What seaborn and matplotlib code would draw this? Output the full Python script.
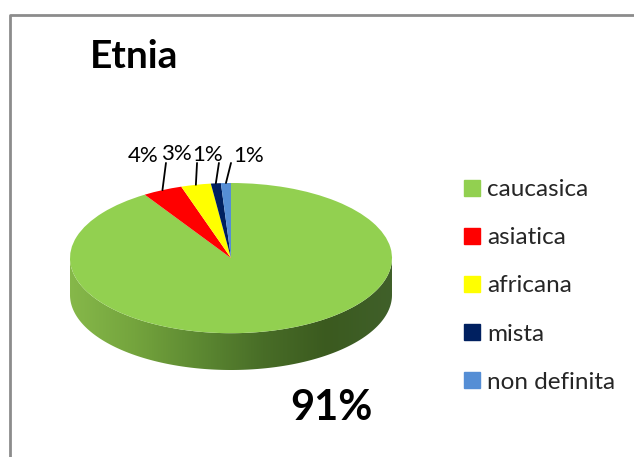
import numpy as np
import seaborn as sns
import matplotlib.pyplot as plt
from matplotlib.colors import LinearSegmentedColormap
from matplotlib.patches import Polygon
from matplotlib.lines import Line2D

# dati
categorie = ["caucasica", "asiatica", "africana", "mista", "non definita"]
percentuali = [91, 4, 3, 1, 1]
etichette = ["91%", "4%", "3%", "1%", "1%"]
colori = ["#92d050", "#ff0000", "#ffff00", "#002060", "#558ed5"]

sns.set_theme(style="white")
plt.rcParams["font.family"] = ["Lato", "DejaVu Sans"]

W, H = 634, 457
fig = plt.figure(figsize=(W / 100, H / 100), dpi=100)


def box(x0, y0, x1, y1):
    # rettangolo in pixel -> coordinate figura
    return [x0 / W, 1 - y1 / H, (x1 - x0) / W, (y1 - y0) / H]


# cornice grigia (solo lati sinistro e superiore visibili)
fig.add_artist(Line2D([10 / W, 10 / W, 1], [0, 1 - 15 / H, 1 - 15 / H],
                      transform=fig.transFigure, color="#8c8c8c", lw=2))

fig.text(90 / W, 1 - 68 / H, "Etnia", fontsize=28, fontweight="bold",
         ha="left", va="baseline", color="black")

# torta "3D": faccia superiore ellittica + fianco sfumato
spessore = 0.49
ax = fig.add_axes(box(70, 183, 392, 370))
wedges, _ = ax.pie(percentuali, colors=colori, startangle=90,
                   counterclock=False, wedgeprops=dict(linewidth=0))
for w in wedges:
    w.set_zorder(2)
    w.set_clip_on(False)

t = np.linspace(np.pi, 2 * np.pi, 300)
xs, ys = np.cos(t), np.sin(t)
verts = np.concatenate([np.c_[xs, ys], np.c_[xs[::-1], ys[::-1] - spessore]])
fianco = Polygon(verts, closed=True, facecolor="none", edgecolor="none")
ax.add_patch(fianco)
cmap = LinearSegmentedColormap.from_list(
    "fianco", ["#86b84a", "#74a43d", "#5d8932", "#486d27", "#3b5a1f", "#40602a"])
im = ax.imshow(np.linspace(0, 1, 256).reshape(1, -1), cmap=cmap,
               extent=[-1, 1, -1 - spessore, 0], aspect="auto", zorder=1)
im.set_clip_path(fianco)

ax.set_aspect("auto")
ax.set_xlim(-1, 1)
ax.set_ylim(-1 - spessore, 1)
ax.axis("off")

# etichette delle fette piccole con linee guida
pos_testo = [None, (-0.543, 1.28), (-0.342, 1.307), (-0.146, 1.293), (0.112, 1.28)]
pos_linea = [None, (-0.404, 1.267), (-0.211, 1.267), (-0.075, 1.267), (0.0, 1.267)]
for i, w in enumerate(wedges):
    if i == 0:
        continue
    a = np.deg2rad((w.theta1 + w.theta2) / 2)
    bordo = (np.cos(a), np.sin(a))
    ax.plot([bordo[0], pos_linea[i][0]], [bordo[1], pos_linea[i][1]],
            color="black", lw=1.3, clip_on=False, zorder=3)
    ax.text(*pos_testo[i], etichette[i], fontsize=16, ha="center", va="baseline",
            color="black", clip_on=False)

ax.text(0.621, -2.0, etichette[0], fontsize=30, fontweight="bold",
        ha="center", va="center", color="black", clip_on=False)

# legenda
maniglie = [Line2D([], [], marker="s", ls="", markersize=11, color=c) for c in colori]
fig.legend(maniglie, categorie, loc="upper left",
           bbox_to_anchor=(465 / W, 1 - 179 / H), frameon=False,
           fontsize=17.5, handlelength=0.6, handletextpad=0.3,
           labelspacing=1.12, borderpad=0, borderaxespad=0)

fig.savefig("out.png", dpi=100, facecolor="white")
